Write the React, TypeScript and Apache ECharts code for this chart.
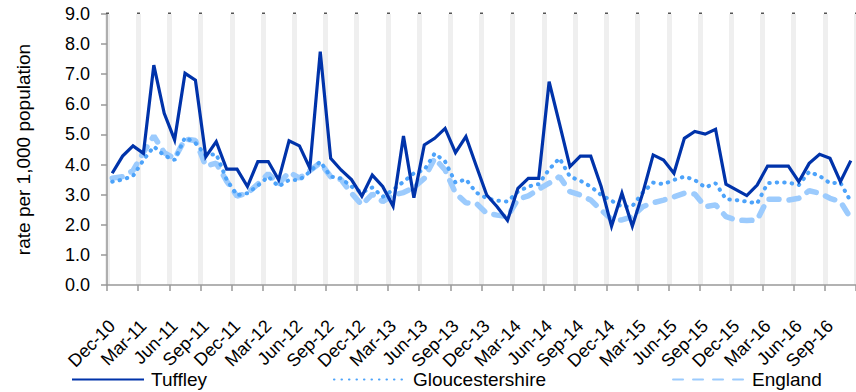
import React, { useEffect, useRef } from "react";
import * as echarts from "echarts";

const categories = [
  "Dec-10",
  "Jan-11","Feb-11","Mar-11","Apr-11","May-11","Jun-11","Jul-11","Aug-11","Sep-11","Oct-11","Nov-11","Dec-11",
  "Jan-12","Feb-12","Mar-12","Apr-12","May-12","Jun-12","Jul-12","Aug-12","Sep-12","Oct-12","Nov-12","Dec-12",
  "Jan-13","Feb-13","Mar-13","Apr-13","May-13","Jun-13","Jul-13","Aug-13","Sep-13","Oct-13","Nov-13","Dec-13",
  "Jan-14","Feb-14","Mar-14","Apr-14","May-14","Jun-14","Jul-14","Aug-14","Sep-14","Oct-14","Nov-14","Dec-14",
  "Jan-15","Feb-15","Mar-15","Apr-15","May-15","Jun-15","Jul-15","Aug-15","Sep-15","Oct-15","Nov-15","Dec-15",
  "Jan-16","Feb-16","Mar-16","Apr-16","May-16","Jun-16","Jul-16","Aug-16","Sep-16","Oct-16","Nov-16",
];

const tuffley = [
  3.71, 4.28, 4.62, 4.37, 7.3, 5.7, 4.82, 7.03, 6.8, 4.26, 4.76, 3.85,
  3.85, 3.27, 4.1, 4.1, 3.49, 4.79, 4.62, 3.88, 7.75, 4.21, 3.82, 3.5,
  2.95, 3.65, 3.27, 2.62, 4.95, 2.9, 4.65, 4.87, 5.2, 4.4, 4.93, 3.95,
  2.99, 2.6, 2.15, 3.21, 3.54, 3.54, 6.75, 5.35, 3.93, 4.28, 4.28, 3.27,
  1.95, 3.05, 1.95, 3.05, 4.32, 4.15, 3.71, 4.87, 5.1, 5.01, 5.17, 3.35,
  3.16, 2.97, 3.32, 3.95, 3.95, 3.95, 3.43, 4.04, 4.34, 4.21, 3.43, 4.13,
];

const gloucestershire = [
  3.43, 3.5, 3.62, 4.15, 4.6, 4.3, 4.15, 4.9, 4.72, 4.3, 4.35, 3.5,
  2.98, 3.05, 3.3, 3.6, 3.27, 3.49, 3.49, 3.76, 4.1, 3.6, 3.54, 3.27,
  3.07, 3.24, 2.93, 3.16, 3.43, 3.71, 3.82, 4.37, 4.1, 3.4, 3.51, 3.07,
  2.88, 2.8, 2.77, 3.1, 3.27, 3.35, 3.84, 4.21, 3.6, 3.46, 3.27, 2.99,
  2.8, 2.6, 2.62, 3.07, 3.4, 3.35, 3.49, 3.6, 3.49, 3.24, 3.38, 2.85,
  2.82, 2.77, 2.71, 3.38, 3.41, 3.4, 3.32, 3.76, 3.62, 3.38, 3.4, 2.77,
];

const england = [
  3.55, 3.6, 3.8, 4.4, 4.95, 4.4, 4.2, 4.85, 4.8, 3.95, 4.05, 3.45,
  2.95, 3.05, 3.35, 3.7, 3.35, 3.75, 3.55, 3.8, 4.06, 3.6, 3.5, 3.05,
  2.66, 3.02, 2.77, 2.99, 3.07, 3.24, 3.54, 4.21, 3.82, 3.05, 2.73, 2.71,
  2.38, 2.32, 2.27, 2.85, 2.96, 3.18, 3.38, 3.6, 3.1, 2.99, 2.82, 2.49,
  2.18, 2.16, 2.27, 2.6, 2.73, 2.82, 2.93, 3.05, 3.02, 2.6, 2.66, 2.27,
  2.16, 2.14, 2.16, 2.85, 2.85, 2.82, 2.88, 3.13, 3.05, 2.88, 2.77, 2.21,
];

const seriesNames = ["Tuffley", "Gloucestershire", "England"];
const yAxisTitle = "rate per 1,000 population";

const FONT = "Liberation Sans, Arial, sans-serif";

export default function App() {
  const ref = useRef<HTMLDivElement>(null);

  useEffect(() => {
    if (!ref.current) return;
    const chart = echarts.init(ref.current, undefined, { renderer: "svg" });
    chart.setOption({
      animation: false,
      backgroundColor: "#ffffff",
      textStyle: { fontFamily: FONT },
      grid: { left: 107, top: 14, width: 751, height: 271, containLabel: false },
      legend: {
        data: seriesNames,
        left: 66,
        top: 365,
        itemWidth: 72,
        itemHeight: 12,
        itemGap: 126,
        itemStyle: { opacity: 0 },
        textStyle: { fontFamily: FONT, fontSize: 19, color: "#000", padding: [0, 0, 0, 2] },
      },
      xAxis: [
        {
          type: "category",
          data: categories,
          boundaryGap: true,
          axisLine: { show: true, lineStyle: { color: "#999", width: 1.5 } },
          axisTick: { show: true, interval: 2, length: 6, lineStyle: { color: "#999", width: 1.5 } },
          axisLabel: {
            show: true,
            interval: 2,
            rotate: 45,
            margin: 38,
            fontSize: 18,
            fontFamily: FONT,
            color: "#000",
          },
          splitLine: { show: true, interval: 2, lineStyle: { color: "#efefef", width: 5 } },
        },
        {
          type: "category",
          data: categories,
          position: "top",
          boundaryGap: true,
          axisLine: { show: false },
          axisTick: { show: true, interval: 2, length: 1.5, lineStyle: { color: "#555", width: 3 } },
          axisLabel: { show: false },
          splitLine: { show: false },
        },
      ],
      yAxis: {
        type: "value",
        min: 0,
        max: 9,
        interval: 1,
        name: yAxisTitle,
        nameLocation: "middle",
        nameRotate: 90,
        nameGap: 74,
        nameTextStyle: { fontFamily: FONT, fontSize: 19, color: "#000" },
        axisLine: { show: true, lineStyle: { color: "#999", width: 1.5 } },
        axisTick: { show: true, length: 6, lineStyle: { color: "#999", width: 1.5 } },
        axisLabel: {
          margin: 17,
          fontSize: 18,
          fontFamily: FONT,
          color: "#000",
          formatter: (v: number) => v.toFixed(1),
        },
        splitLine: { show: false },
      },
      series: [
        {
          name: seriesNames[0],
          type: "line",
          data: tuffley,
          symbol: "none",
          z: 4,
          lineStyle: { color: "#0033aa", width: 3.2, join: "miter" },
          itemStyle: { color: "#0033aa" },
        },
        {
          name: seriesNames[1],
          type: "line",
          data: gloucestershire,
          symbol: "none",
          z: 3,
          lineStyle: { color: "#4da3fa", width: 4, type: [0.5, 7], cap: "round" },
          itemStyle: { color: "#4da3fa" },
        },
        {
          name: seriesNames[2],
          type: "line",
          data: england,
          symbol: "none",
          z: 2,
          lineStyle: { color: "#9ccbfd", width: 5.5, type: [10, 10], cap: "round" },
          itemStyle: { color: "#9ccbfd" },
        },
      ],
    });
    return () => chart.dispose();
  }, []);

  return (
    <div
      ref={ref}
      style={{ position: "absolute", left: 0, top: 0, width: 856, height: 392 }}
    />
  );
}
